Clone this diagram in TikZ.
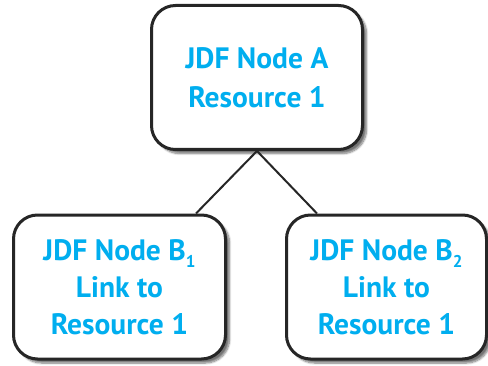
\documentclass[tikz,border=0pt]{standalone}
\usepackage{fontspec}
\setmainfont{PT Sans}
\usepackage{tikz}
\usetikzlibrary{positioning,shadows.blur}

\definecolor{jdfcyan}{HTML}{00AEEF}
\newcommand{\jdfsub}[1]{\raisebox{-7pt}{\fontsize{17}{17}\selectfont #1}}

\begin{document}
\begin{tikzpicture}[
  x=1pt, y=1pt,
  jdfbox/.style={draw=black!85, line width=3pt, rounded corners=24pt, fill=white,
    align=center, font=\fontsize{29.5}{37}\selectfont\bfseries, text=jdfcyan,
    inner sep=0pt, minimum height=144pt,
    blur shadow={shadow xshift=4pt, shadow yshift=-4pt, shadow blur steps=8, shadow opacity=55}},
  link/.style={draw=black!85, line width=2pt}
]
\useasboundingbox (0,0) rectangle (488,365);
\node[jdfbox, minimum width=211pt, font=\fontsize{29.5}{39}\selectfont\bfseries] (nodeA) at (257,287.5) {JDF Node A\\Resource 1};
\node[jdfbox, minimum width=212pt] (nodeB1) at (119.5,78) {JDF Node B\jdfsub{1}\\Link to\\Resource 1};
\node[jdfbox, minimum width=200pt] (nodeB2) at (386.5,78) {JDF Node B\jdfsub{2}\\Link to\\Resource 1};
\draw[link] (nodeA.south) -- ([xshift=-31pt]nodeB1.north east);
\draw[link] (nodeA.south) -- ([xshift=32pt]nodeB2.north west);
\end{tikzpicture}
\end{document}
